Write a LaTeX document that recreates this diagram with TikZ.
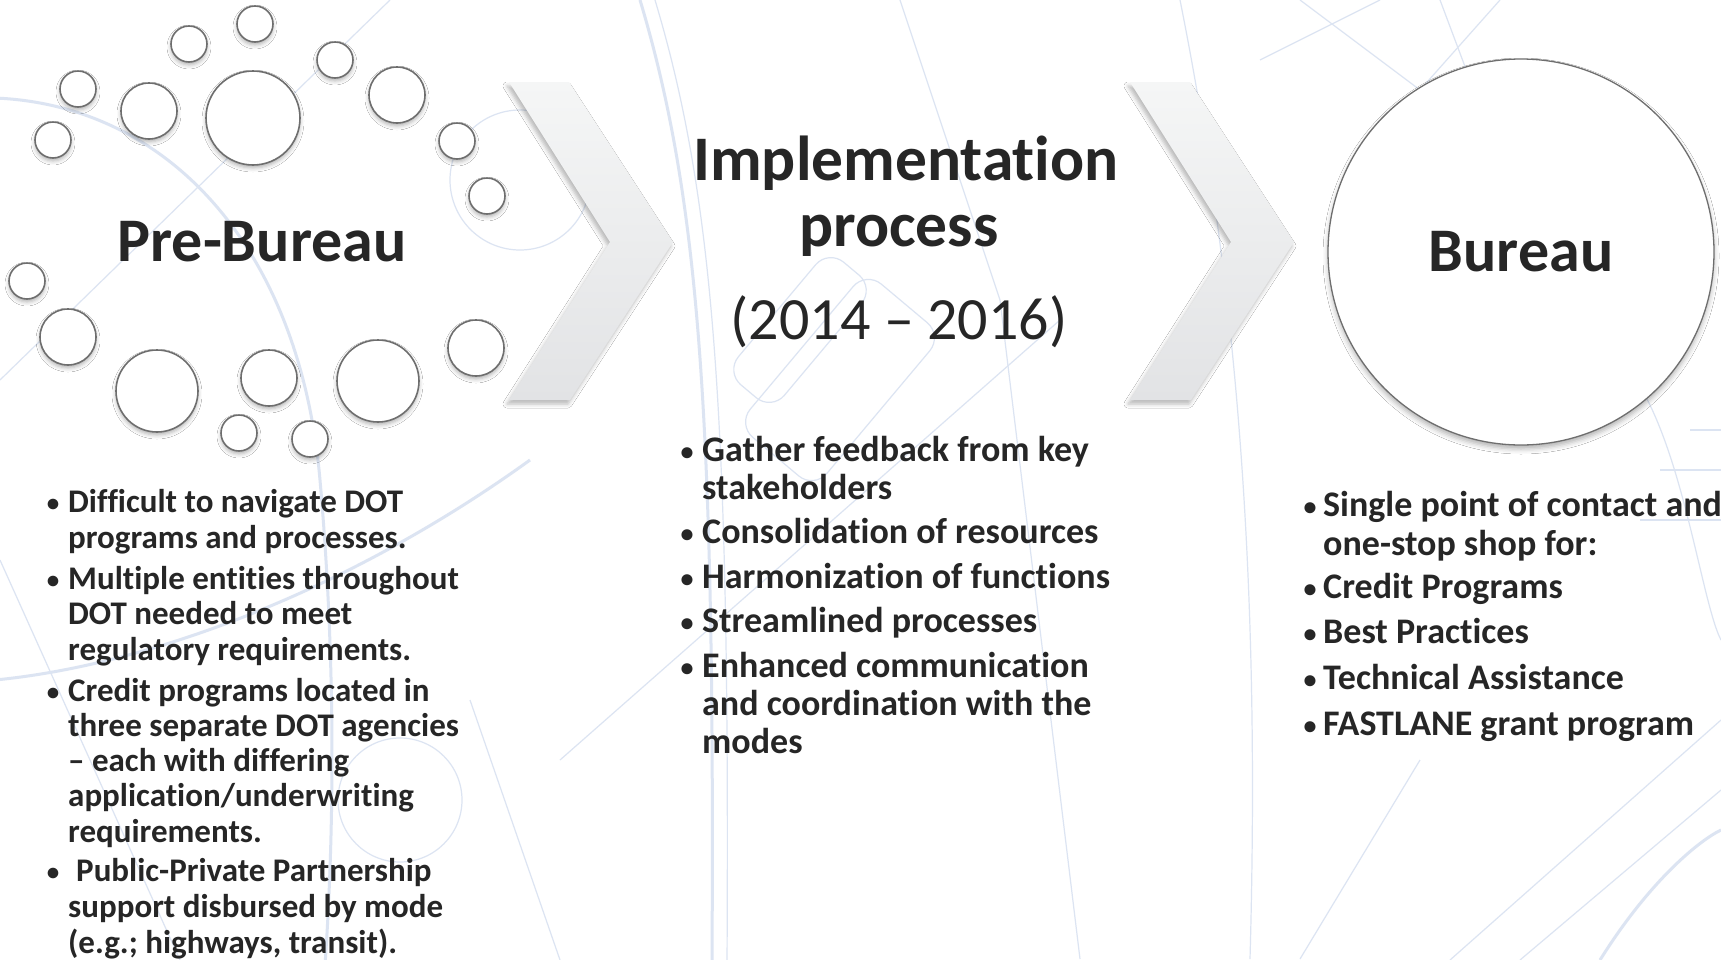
\documentclass[tikz,border=0pt]{standalone}
\usepackage{fontspec}
\setmainfont[Ligatures=NoCommon]{Carlito}
\usetikzlibrary{shadows.blur}
\definecolor{ink}{HTML}{262626}
\definecolor{ring}{HTML}{6E6E6E}
\definecolor{bgblue}{HTML}{DCE4F2}
\definecolor{chevtop}{HTML}{F5F6F6}
\definecolor{chevbot}{HTML}{E2E3E5}
\tikzset{
  bub/.style={circle, draw=ring, line width=1.6pt, fill=white, inner sep=0pt,
    blur shadow={shadow xshift=0pt, shadow yshift=-3pt, shadow blur radius=4pt, shadow opacity=30}},
  chev/.style={top color=chevtop, bottom color=chevbot,
    blur shadow={shadow xshift=-2pt, shadow yshift=-4pt, shadow blur radius=4pt, shadow opacity=28}},
  title/.style={font=\bfseries\fontsize{62}{66}\selectfont, text=ink, inner sep=0pt},
  years/.style={font=\fontsize{60}{64}\selectfont, text=ink, inner sep=0pt, anchor=base},
  itemA/.style={font=\bfseries\fontsize{33}{35}\selectfont, text=ink, inner sep=0pt, anchor=base west},
  itemB/.style={font=\bfseries\fontsize{36}{38}\selectfont, text=ink, inner sep=0pt, anchor=base west},
  dotA/.style={font=\bfseries\fontsize{25}{27}\selectfont, text=ink, inner sep=0pt, anchor=base, yshift=1pt},
  dotB/.style={font=\bfseries\fontsize{26}{28}\selectfont, text=ink, inner sep=0pt, anchor=base, yshift=1pt},
  bgthick/.style={draw=bgblue, line width=3pt},
  bgthin/.style={draw=bgblue, line width=1.2pt},
}
\begin{document}
\begin{tikzpicture}[x=1pt, y=-1pt]
\useasboundingbox (0,0) rectangle (1721,959);
\fill[white] (0,0) rectangle (1721,959);
\begin{scope}
\clip (0,0) rectangle (1721,959);
% faint background sketch
\draw[bgthick] (-5,98) .. controls (170,105) and (300,250) .. (320,480) .. controls (335,650) and (335,820) .. (325,965);
\draw[bgthick] (-5,680) .. controls (150,665) and (350,590) .. (530,460);
\draw[bgthin] (390,0) -- (0,380);
\draw[bgthin] (0,560) -- (180,960);
\draw[bgthin] (400,800) circle[radius=62];
\draw[bgthin] (470,700) -- (560,960);
\draw[bgthick] (640,0) .. controls (700,200) and (715,420) .. (712,965);
\draw[bgthin] (655,0) .. controls (715,200) and (730,420) .. (727,965);
\draw[bgthin, rounded corners=20pt, rotate around={50:(840,380)}] (740,330) rectangle (940,430);
\draw[bgthin, rounded corners=20pt, rotate around={50:(800,330)}] (720,300) rectangle (880,360);
\draw[bgthin] (520,180) circle[radius=70];
\draw[bgthin] (900,0) -- (1000,300) -- (1080,959);
\draw[bgthin] (560,760) -- (1060,320);
\draw[bgthin] (1180,0) .. controls (1240,300) and (1260,600) .. (1250,959);
\draw[bgthin] (1260,60) -- (1380,0);
\draw[bgthin] (1300,0) -- (1420,90) -- (1500,0);
\draw[bgthin] (1440,0) -- (1470,80);
\draw[bgthin] (1690,430) -- (1721,430);
\draw[bgthin] (1660,470) -- (1721,470);
\draw[bgthin] (1640,520) -- (1721,520);
\draw[bgthin] (1450,960) -- (1721,720);
\draw[bgthin] (1520,960) -- (1721,790);
\draw[bgthick] (1600,960) .. controls (1650,880) and (1700,840) .. (1721,830);
\draw[bgthin] (1300,959) -- (1420,760);
\draw[bgthin] (1620,360) .. controls (1680,420) and (1700,600) .. (1721,640);
\end{scope}

% chevrons
\path[chev] (509,82) -- (569,82) -- (673,242) -- (570,400) -- (509,400) -- (610,242) -- cycle;
\path[chev] (1130,82) -- (1190,82) -- (1294,242) -- (1191,400) -- (1130,400) -- (1231,242) -- cycle;

% pre-bureau bubbles
\node[bub, minimum size=36pt] (b1) at (255,24) {};
\node[bub, minimum size=36pt] (b2) at (189,44) {};
\node[bub, minimum size=36pt] (b3) at (78,89) {};
\node[bub, minimum size=56pt] (b4) at (149,111) {};
\node[bub, minimum size=94pt] (b5) at (253,118) {};
\node[bub, minimum size=36pt] (b6) at (335,60) {};
\node[bub, minimum size=56pt] (b7) at (397,95) {};
\node[bub, minimum size=36pt] (b8) at (53,140) {};
\node[bub, minimum size=36pt] (b9) at (457,141) {};
\node[bub, minimum size=36pt] (b10) at (487,196) {};
\node[bub, minimum size=36pt] (b11) at (27,281) {};
\node[bub, minimum size=56pt] (b12) at (68,337) {};
\node[bub, minimum size=82pt] (b13) at (157,391) {};
\node[bub, minimum size=56pt] (b14) at (269,378) {};
\node[bub, minimum size=82pt] (b15) at (378,381) {};
\node[bub, minimum size=56pt] (b16) at (476,348) {};
\node[bub, minimum size=36pt] (b17) at (239,433) {};
\node[bub, minimum size=36pt] (b18) at (310,439) {};

% titles
\node[title, anchor=base] (pre) at (262,261) {Pre-Bureau};
\node[title, anchor=base, font=\bfseries\fontsize{63.5}{66}\selectfont] (impl) at (906,180) {Implementation};
\node[title, anchor=base, font=\bfseries\fontsize{63.5}{66}\selectfont] (proc) at (899,246) {process};
\node[years] (yrs) at (899,339) {(2014 – 2016)};
\node[circle, draw=ring, line width=1.3pt, fill=white, minimum size=386pt, inner sep=0pt,
      font=\bfseries\fontsize{62}{66}\selectfont, text=ink,
      blur shadow={shadow xshift=0pt, shadow yshift=-4pt, shadow blur radius=5pt, shadow opacity=30}]
      (bureau) at (1521,252) {Bureau};

% left list
\node[dotA] (ld1) at (53,512) {•};
\node[itemA] (l1) at (68,512) {Difficult to navigate DOT};
\node[itemA] (l2) at (68,548) {programs and processes.};
\node[dotA] (ld2) at (53,589) {•};
\node[itemA] (l3) at (68,589) {Multiple entities throughout};
\node[itemA] (l4) at (68,624) {DOT needed to meet};
\node[itemA] (l5) at (68,660) {regulatory requirements.};
\node[dotA] (ld3) at (53,701) {•};
\node[itemA] (l6) at (68,701) {Credit programs located in};
\node[itemA] (l7) at (68,736) {three separate DOT agencies};
\node[itemA] (l8) at (68,771) {– each with differing};
\node[itemA] (l9) at (68,806) {application/underwriting};
\node[itemA] (l10) at (68,842) {requirements.};
\node[dotA] (ld4) at (53,881) {•};
\node[itemA] (l11) at (76,881) {Public-Private Partnership};
\node[itemA] (l12) at (68,917) {support disbursed by mode};
\node[itemA] (l13) at (68,953) {(e.g.; highways, transit).};

% middle list
\node[dotB] (md1) at (687,461) {•};
\node[itemB] (m1) at (702,461) {Gather feedback from key};
\node[itemB] (m2) at (702,499) {stakeholders};
\node[dotB] (md2) at (687,543) {•};
\node[itemB] (m3) at (702,543) {Consolidation of resources};
\node[dotB] (md3) at (687,588) {•};
\node[itemB] (m4) at (702,588) {Harmonization of functions};
\node[dotB] (md4) at (687,632) {•};
\node[itemB] (m5) at (702,632) {Streamlined processes};
\node[dotB] (md5) at (687,677) {•};
\node[itemB] (m6) at (702,677) {Enhanced communication};
\node[itemB] (m7) at (702,715) {and coordination with the};
\node[itemB] (m8) at (702,753) {modes};

% right list
\node[dotB] (rd1) at (1310,516) {•};
\node[itemB] (r1) at (1323,516) {Single point of contact and};
\node[itemB] (r2) at (1323,555) {one-stop shop for:};
\node[dotB] (rd2) at (1310,598) {•};
\node[itemB] (r3) at (1323,598) {Credit Programs};
\node[dotB] (rd3) at (1310,643) {•};
\node[itemB] (r4) at (1323,643) {Best Practices};
\node[dotB] (rd4) at (1310,689) {•};
\node[itemB] (r5) at (1323,689) {Technical Assistance};
\node[dotB] (rd5) at (1310,735) {•};
\node[itemB] (r6) at (1323,735) {FASTLANE grant program};
\end{tikzpicture}
\end{document}
